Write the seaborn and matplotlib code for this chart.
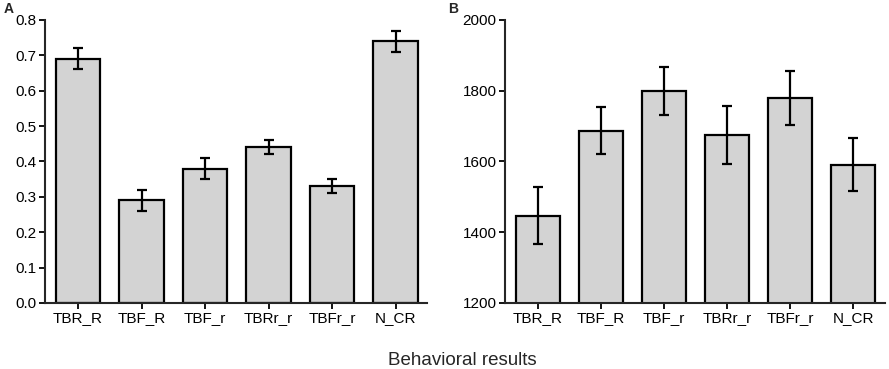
import numpy as np
import pandas as pd
import seaborn as sns
import matplotlib.pyplot as plt
from matplotlib.ticker import FormatStrFormatter

#######################################################
### DATA
#######################################################
conditions = ['TBR_R', 'TBF_R', 'TBF_r', 'TBRr_r', 'TBFr_r', 'N_CR']

# A: proportions
rate_mean = [0.69, 0.29, 0.38, 0.44, 0.33, 0.74]
rate_err = [0.03, 0.03, 0.03, 0.02, 0.02, 0.03]

# B: reaction times
rt_mean = [1447, 1687, 1798, 1675, 1780, 1591]
rt_err = [81, 67, 68, 82, 76, 74]

df_rate = pd.DataFrame({'condition': conditions, 'value': rate_mean, 'err': rate_err})
df_rt = pd.DataFrame({'condition': conditions, 'value': rt_mean, 'err': rt_err})

#######################################################
### PLOT
#######################################################
sns.set_style('ticks')
plt.rcParams['font.family'] = ['Liberation Sans', 'DejaVu Sans']

fig = plt.figure(figsize=(8.89, 3.69), dpi=100)
ax_a = fig.add_axes([0.0506, 0.179, 0.430, 0.767])
ax_b = fig.add_axes([0.568, 0.179, 0.427, 0.767])

for ax, df, ylim, ticks, label, lx in [
        (ax_a, df_rate, (0, 0.8), np.arange(0, 0.81, 0.1), 'A', -0.108),
        (ax_b, df_rt, (1200, 2000), np.arange(1200, 2001, 200), 'B', -0.15)]:
    sns.barplot(x='condition', y='value', data=df, ax=ax, color='#d3d3d3',
                edgecolor='black', linewidth=1.6, width=0.7, errorbar=None,
                saturation=1)
    ax.errorbar(np.arange(len(df)), df['value'], yerr=df['err'], fmt='none',
                ecolor='black', elinewidth=1.6, capsize=3.5, capthick=1.6, zorder=5)
    ax.set_ylim(ylim)
    ax.set_yticks(ticks)
    ax.set_xlim(-0.52, 5.5)
    ax.set_xlabel('')
    ax.set_ylabel('')
    sns.despine(ax=ax)
    for s in ['left', 'bottom']:
        ax.spines[s].set_linewidth(1.5)
    ax.tick_params(axis='both', direction='out', length=4, width=1.3,
                   labelsize=11, pad=2, colors='black')
    ax.text(lx, 1.065, label, transform=ax.transAxes,
            fontsize=10, fontweight='bold', va='top', ha='left')

ax_a.yaxis.set_major_formatter(FormatStrFormatter('%.1f'))

fig.text(0.52, 0.01, 'Behavioral results', ha='center', va='baseline', fontsize=13.5)

plt.savefig('out.png', dpi=100)
